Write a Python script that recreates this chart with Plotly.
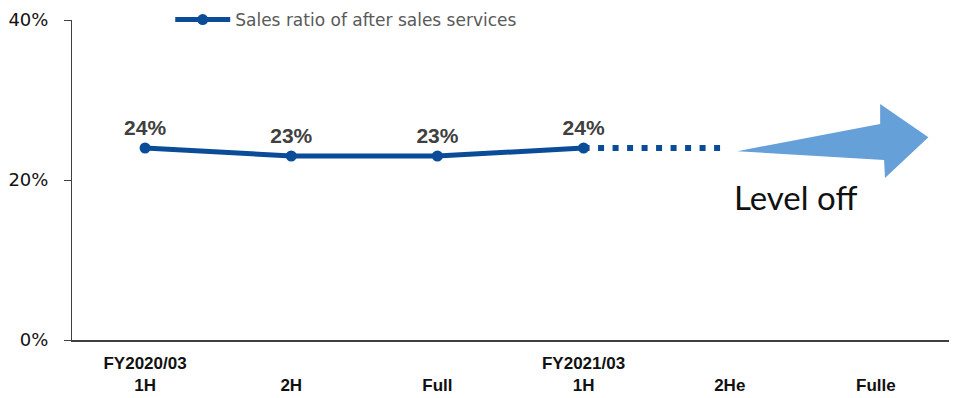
import plotly.graph_objects as go

# Periods and the after-sales share of sales
categories = ["FY2020/03<br>1H", "<br>2H", "<br>Full", "FY2021/03<br>1H", "<br>2He", "<br>Fulle"]
actual_idx = [0, 1, 2, 3]
actual_ratio = [24, 23, 23, 24]
outlook_idx = [3, 3.97]
outlook_ratio = [24, 24]
y_ticks = [0, 20, 40]

blue = "#0a4c97"
arrow_blue = "#65a0d8"

fig = go.Figure()

fig.add_trace(go.Scatter(
    x=actual_idx, y=actual_ratio,
    mode="lines+markers+text",
    name="Sales ratio of after sales services",
    line=dict(color=blue, width=5),
    marker=dict(color=blue, size=11),
    text=[f"{v}%" for v in actual_ratio],
    textposition="top center",
    textfont=dict(family="Liberation Sans, Arial, sans-serif", size=21, color="#404040", weight="bold"),
    cliponaxis=False,
))

fig.add_trace(go.Scatter(
    x=outlook_idx, y=outlook_ratio,
    mode="lines",
    showlegend=False,
    line=dict(color=blue, width=6, dash="6px,8.5px"),
    hoverinfo="skip",
))

# Broad arrow marking the flat outlook
fig.add_shape(
    type="path",
    xref="paper", yref="y",
    path=("M 0.7585,23.6 L 0.9215,27 L 0.9215,29.5 L 0.9765,25.35 "
          "L 0.927,20.25 L 0.926,22.5 Z"),
    fillcolor=arrow_blue,
    line=dict(width=0),
    layer="above",
)

fig.add_annotation(
    x=0.8255, xref="paper", y=17.9, yref="y",
    xanchor="center", yanchor="middle",
    text="Level off",
    showarrow=False,
    font=dict(family="Lato, Noto Sans, sans-serif", size=33, color="#111111"),
)

fig.update_layout(
    width=955, height=398,
    margin=dict(l=72, r=6, t=20, b=58, autoexpand=False),
    plot_bgcolor="white",
    paper_bgcolor="white",
    showlegend=True,
    legend=dict(
        x=0.112, y=1.0, xanchor="left", yanchor="middle",
        bgcolor="rgba(0,0,0,0)",
        font=dict(family="DejaVu Sans, sans-serif", size=17, color="#595959"),
        itemwidth=55,
    ),
    xaxis=dict(
        range=[-0.5, 5.5],
        tickmode="array",
        tickvals=list(range(len(categories))),
        ticktext=[f"<b>{c}</b>" for c in categories],
        tickfont=dict(family="Liberation Sans Narrow, Liberation Sans, Arial, sans-serif", size=17, color="#111111"),
        showline=True, linecolor="#404040", linewidth=1.5,
        showgrid=False, zeroline=False,
        ticks="",
        ticklabelstandoff=7,
        fixedrange=True,
    ),
    yaxis=dict(
        range=[0, 40],
        tickmode="array",
        tickvals=y_ticks,
        ticktext=[f"{v}%" for v in y_ticks],
        tickfont=dict(family="DejaVu Sans, sans-serif", size=18, color="#111111"),
        showline=True, linecolor="#404040", linewidth=1,
        ticks="outside", ticklen=7, tickcolor="#404040",
        showgrid=False, zeroline=False,
        ticklabelstandoff=12,
        fixedrange=True,
    ),
)

fig.write_html("out.html")
